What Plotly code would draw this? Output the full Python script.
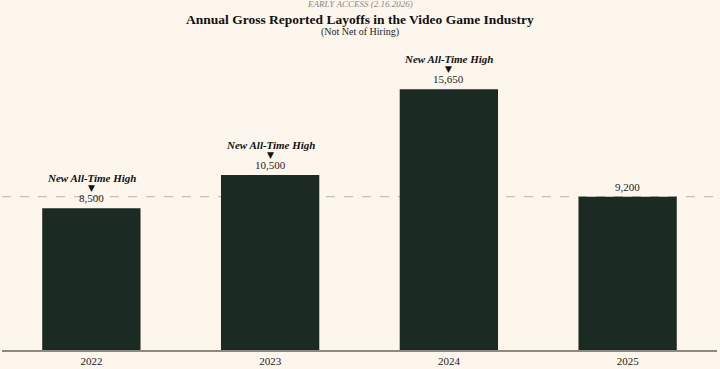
import plotly.graph_objects as go

years = ["2022", "2023", "2024", "2025"]
layoffs = [8500, 10500, 15650, 9200]
record = [True, True, True, False]
ref_level = 9200

BG = "#fdf6ec"
BAR = "#1b2a22"
FONT = "Liberation Serif"

pos = list(range(len(years)))

fig = go.Figure()
fig.add_trace(go.Bar(
    x=pos, y=layoffs, width=0.55, marker=dict(color=BAR, line=dict(width=0)),
    hoverinfo="skip",
))

ann = []
for p, v, r in zip(pos, layoffs, record):
    ann.append(dict(x=p, y=v, xref="x", yref="y", text=f"{v:,}", showarrow=False, yanchor="bottom",
                    yshift=2, font=dict(family=FONT, size=11, color="#222")))
    if r:
        ann.append(dict(x=p, y=v, xref="x", yref="y", text="▼", showarrow=False, yanchor="bottom",
                        yshift=14, borderpad=0, font=dict(family="DejaVu Sans", size=9, color="#111")))
        ann.append(dict(x=p, y=v, xref="x", yref="y", text="<b><i>New All-Time High</i></b>", showarrow=False,
                        yanchor="bottom", yshift=22, font=dict(family=FONT, size=11, color="#111")))

ann.append(dict(xref="paper", yref="paper", x=0.5, y=1, yanchor="bottom", yshift=39,
                text="<i>EARLY ACCESS (2.16.2026)</i>", showarrow=False,
                font=dict(family=FONT, size=9, color="#888")))
ann.append(dict(xref="paper", yref="paper", x=0.5, y=1, yanchor="bottom", yshift=21,
                text="<b>Annual Gross Reported Layoffs in the Video Game Industry</b>", showarrow=False,
                font=dict(family=FONT, size=13.5, color="#111")))
ann.append(dict(xref="paper", yref="paper", x=0.5, y=1, yanchor="bottom", yshift=10,
                text="(Not Net of Hiring)", showarrow=False,
                font=dict(family=FONT, size=10, color="#222")))

fig.update_layout(
    width=720, height=369,
    margin=dict(l=2, r=3, t=50, b=17),
    paper_bgcolor=BG, plot_bgcolor=BG,
    showlegend=False,
    annotations=ann,
    shapes=[dict(type="line", xref="paper", yref="y", x0=0, x1=1, y0=ref_level, y1=ref_level,
                 line=dict(color="#b8b4ac", width=1, dash="dash"), layer="below")],
    xaxis=dict(range=[-0.5, len(years) - 0.5], showline=True, linecolor="#8a8a80", linewidth=1.5,
               ticks="", tickmode="array", tickvals=pos, ticktext=years, ticklabelstandoff=0,
               tickfont=dict(family=FONT, size=11, color="#222"), showgrid=False, zeroline=False),
    yaxis=dict(range=[0, 18000], visible=False, showgrid=False, zeroline=False),
)

fig.write_html("out.html", config={"displayModeBar": False},
               post_script="document.body.style.margin='0';document.body.style.background='%s';" % BG)
